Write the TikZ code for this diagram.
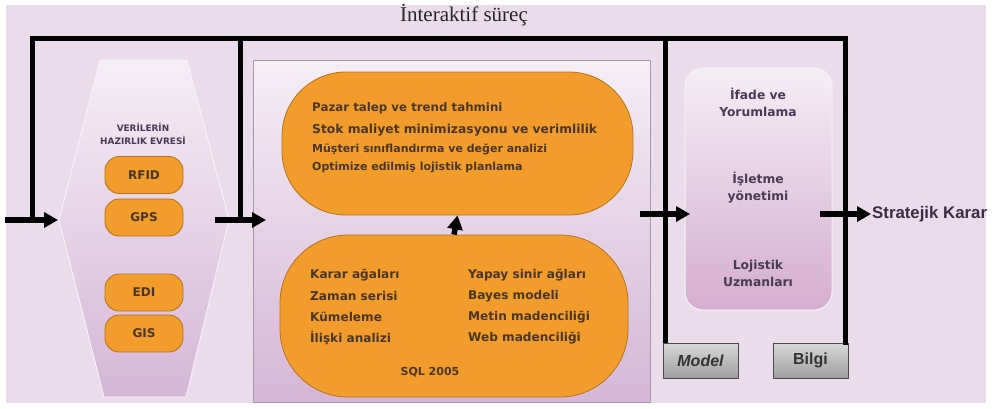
\documentclass[tikz,border=0pt]{standalone}
\usepackage{fontspec}
\setmainfont{DejaVu Sans}
\newfontfamily\serifx{Liberation Serif}
\newfontfamily\arialx{Liberation Sans}
\usetikzlibrary{arrows.meta}
\definecolor{bgc}{HTML}{EBDCEB}
\definecolor{orng}{HTML}{F29C2B}
\definecolor{orngd}{HTML}{B5731E}
\definecolor{txtb}{HTML}{4A3628}
\definecolor{txtp}{HTML}{4A3A55}
\definecolor{palel}{HTML}{F5EEF5}
\definecolor{paled}{HTML}{D6B6D8}
\tikzset{
  fatline/.style={line width=5pt, black, line cap=rect},
  fatarrow/.style={line width=5.5pt, black, -{Triangle[length=14pt,width=15pt]}},
  smallpill/.style={draw=orngd, line width=0.8pt, fill=orng, rounded corners=14pt,
    minimum width=78pt, minimum height=37pt, text=txtb, font=\bfseries\fontsize{12}{13}\selectfont},
  bigpill/.style={draw=orngd, line width=0.8pt, fill=orng},
  otxt/.style={anchor=west, text=txtb, inner sep=0pt, font=\bfseries\fontsize{11.8}{13}\selectfont},
  btxt/.style={anchor=west, text=txtb, inner sep=0pt, font=\bfseries\fontsize{12.1}{13}\selectfont},
  ptxt/.style={align=center, text=txtp, inner sep=0pt, font=\bfseries\fontsize{12.3}{17}\selectfont},
  graybox/.style={draw=black!70, line width=1pt, top color=black!15, bottom color=black!38,
    minimum width=75pt, minimum height=35pt, inner sep=0pt, font=\arialx\bfseries\fontsize{16}{18}\selectfont, text=black!80}
}
\begin{document}
\begin{tikzpicture}[x=1pt,y=-1pt]
\useasboundingbox (0,0) rectangle (998,408);
% background
\node[fill=bgc, draw=none, minimum width=980pt, minimum height=398pt, inner sep=0pt] (bg) at (496,204) {};
% title
\node[font=\serifx\fontsize{21}{23}\selectfont, text=black!85] (title) at (464,15) {İnteraktif süreç};

% hexagon (data preparation phase)
\path[top color=palel, bottom color=paled, draw=white!70!bgc, line width=0.8pt]
  (100,60) -- (187,60) -- (229,220) -- (186,397) -- (104,397) -- (59,220) -- cycle;
\node[align=center, text=txtp, font=\bfseries\fontsize{8.9}{12.5}\selectfont, inner sep=0pt] (hextxt) at (143,134) {VERİLERİN\\HAZIRLIK EVRESİ};
\node[smallpill] (rfid) at (144,175) {RFID};
\node[smallpill] (gps) at (144,217.5) {GPS};
\node[smallpill] (edi) at (144,292.5) {EDI};
\node[smallpill] (gis) at (144,333.5) {GIS};

% central panel
\node[draw=paled!80!black, line width=0.6pt, top color=palel, bottom color=paled,
  minimum width=397pt, minimum height=342pt, inner sep=0pt] (panel) at (451.5,231) {};
\node[bigpill, rounded corners=64pt, minimum width=351pt, minimum height=143pt, inner sep=0pt] (toppill) at (457.5,143.5) {};
\node[bigpill, rounded corners=68pt, minimum width=348pt, minimum height=162pt, inner sep=0pt] (botpill) at (454,316) {};
\node[otxt] (t1) at (312,108) {Pazar talep ve trend tahmini};
\node[otxt, font=\bfseries\fontsize{12.3}{13}\selectfont] (t2) at (312,130) {Stok maliyet minimizasyonu ve verimlilik};
\node[otxt, font=\bfseries\fontsize{11}{13}\selectfont] (t3) at (312,149) {Müşteri sınıflandırma ve değer analizi};
\node[otxt, font=\bfseries\fontsize{11}{13}\selectfont] (t4) at (312,168) {Optimize edilmiş lojistik planlama};
\node[btxt] (b1) at (310,275) {Karar ağaları};
\node[btxt] (b2) at (310,296) {Zaman serisi};
\node[btxt] (b3) at (310,317) {Kümeleme};
\node[btxt] (b4) at (310,338) {İlişki analizi};
\node[btxt] (b5) at (468,275) {Yapay sinir ağları};
\node[btxt] (b6) at (468,296) {Bayes modeli};
\node[btxt] (b7) at (468,317) {Metin madenciliği};
\node[btxt] (b8) at (468,338) {Web madenciliği};
\node[text=txtb, inner sep=0pt, font=\bfseries\fontsize{11}{13}\selectfont] (sql) at (430,372) {SQL 2005};

% right rounded box
\node[draw=white!60!bgc, line width=1pt, rounded corners=18pt, top color=palel, bottom color=paled!95!purple,
  minimum width=147pt, minimum height=242pt, inner sep=0pt] (rbox) at (758.5,189) {};
\node[ptxt] (r1) at (758,102) {İfade ve\\Yorumlama};
\node[ptxt] (r2) at (758,188) {İşletme\\yönetimi};
\node[ptxt] (r3) at (758,273) {Lojistik\\Uzmanları};

% model / bilgi
\node[graybox] (model) at (700.5,360.5) {\itshape Model};
\node[graybox] (bilgi) at (810.5,360.5) {Bilgi};

% interactive loop lines
\coordinate (l1b) at (32,217);
\coordinate (l1t) at (32,38);
\coordinate (l2t) at (240,38);
\coordinate (l2b) at (240,220);
\coordinate (l3t) at (665,38);
\coordinate (l4t) at (845,38);
\draw[fatline, line join=miter] (l1b) -- (l1t) -- (l4t) -- (l4t |- bilgi.north);
\draw[fatline, line cap=butt] (l2t) -- (l2b);
\draw[fatline, line cap=butt] (l3t) -- (l3t |- model.north);

% arrows
\coordinate (a1s) at (5,220);   \coordinate (a1e) at (58,220);
\coordinate (a2s) at (215,220); \coordinate (a2e) at (266,220);
\coordinate (a3s) at (640,214); \coordinate (a3e) at (690,214);
\coordinate (a4s) at (820,214); \coordinate (a4e) at (871,214);
\draw[fatarrow] (a1s) -- (a1e);
\draw[fatarrow] (a2s) -- (a2e);
\draw[fatarrow] (a3s) -- (a3e);
\draw[fatarrow] (a4s) -- (a4e);
\draw[fatarrow] (botpill.north) -- (toppill.south);
\node[anchor=west, inner sep=1pt, font=\arialx\bfseries\fontsize{16.8}{18}\selectfont, text=txtp!80!black] (sk) at (a4e) {Stratejik Karar};
\end{tikzpicture}
\end{document}
